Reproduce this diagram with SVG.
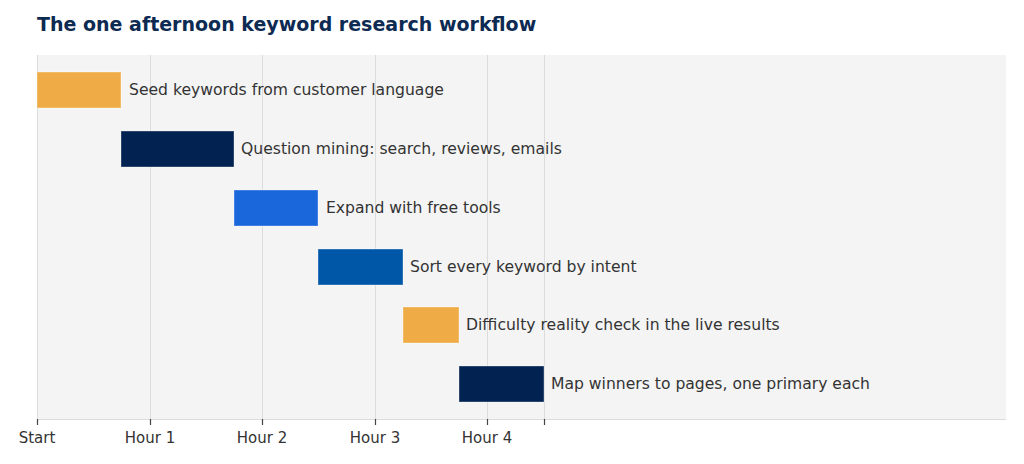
<svg xmlns="http://www.w3.org/2000/svg" width="1024" height="464" viewBox="0 0 1024 464">
<style>
.title{font-family:"DejaVu Sans",sans-serif;font-weight:bold;font-size:19px;fill:#0d2a52}
.lbl{font-family:"DejaVu Sans",sans-serif;font-size:15.6px;fill:#333}
.ax{font-family:"DejaVu Sans",sans-serif;font-size:15px;fill:#333;text-anchor:middle}
.grid{stroke:#dcdcdc;stroke-width:1}
.bar{stroke:#ffffff;stroke-opacity:0.35;stroke-width:1}
.tick{stroke:#444;stroke-width:1.2}
</style>
<rect width="1024" height="464" fill="#ffffff"/>
<text class="title" x="37" y="31">The one afternoon keyword research workflow</text>
<rect x="37" y="55" width="969" height="364" fill="#f4f4f4"/>
<g id="grid">
<line class="grid" x1="37.5" y1="55" x2="37.5" y2="419"/>
<line class="grid" x1="150.5" y1="55" x2="150.5" y2="419"/>
<line class="grid" x1="262.5" y1="55" x2="262.5" y2="419"/>
<line class="grid" x1="375.5" y1="55" x2="375.5" y2="419"/>
<line class="grid" x1="487.5" y1="55" x2="487.5" y2="419"/>
<line class="grid" x1="544.5" y1="55" x2="544.5" y2="419"/>
<line x1="37" y1="419.5" x2="1006" y2="419.5" stroke="#dcdcdc" stroke-width="1"/>
</g>
<g id="axis">
<line class="tick" x1="37.5" y1="419" x2="37.5" y2="425"/>
<line class="tick" x1="150.5" y1="419" x2="150.5" y2="425"/>
<line class="tick" x1="262.5" y1="419" x2="262.5" y2="425"/>
<line class="tick" x1="375.5" y1="419" x2="375.5" y2="425"/>
<line class="tick" x1="487.5" y1="419" x2="487.5" y2="425"/>
<line class="tick" x1="544.5" y1="419" x2="544.5" y2="425"/>
<text class="ax" x="37" y="443">Start</text>
<text class="ax" x="150" y="443">Hour 1</text>
<text class="ax" x="262" y="443">Hour 2</text>
<text class="ax" x="375" y="443">Hour 3</text>
<text class="ax" x="487" y="443">Hour 4</text>
</g>
<g id="task1">
<rect class="bar" x="37" y="72" width="84" height="36" fill="#efac46"/>
<text class="lbl" x="129" y="95">Seed keywords from customer language</text>
</g>
<g id="task2">
<rect class="bar" x="121" y="131" width="113" height="36" fill="#022252"/>
<text class="lbl" x="241" y="154">Question mining: search, reviews, emails</text>
</g>
<g id="task3">
<rect class="bar" x="234" y="190" width="84" height="36" fill="#1a66db"/>
<text class="lbl" x="326" y="213">Expand with free tools</text>
</g>
<g id="task4">
<rect class="bar" x="318" y="249" width="85" height="36" fill="#0057a8"/>
<text class="lbl" x="410" y="272">Sort every keyword by intent</text>
</g>
<g id="task5">
<rect class="bar" x="403" y="307" width="56" height="36" fill="#efac46"/>
<text class="lbl" x="466" y="330">Difficulty reality check in the live results</text>
</g>
<g id="task6">
<rect class="bar" x="459" y="366" width="85" height="36" fill="#022252"/>
<text class="lbl" x="551" y="389">Map winners to pages, one primary each</text>
</g>
</svg>
